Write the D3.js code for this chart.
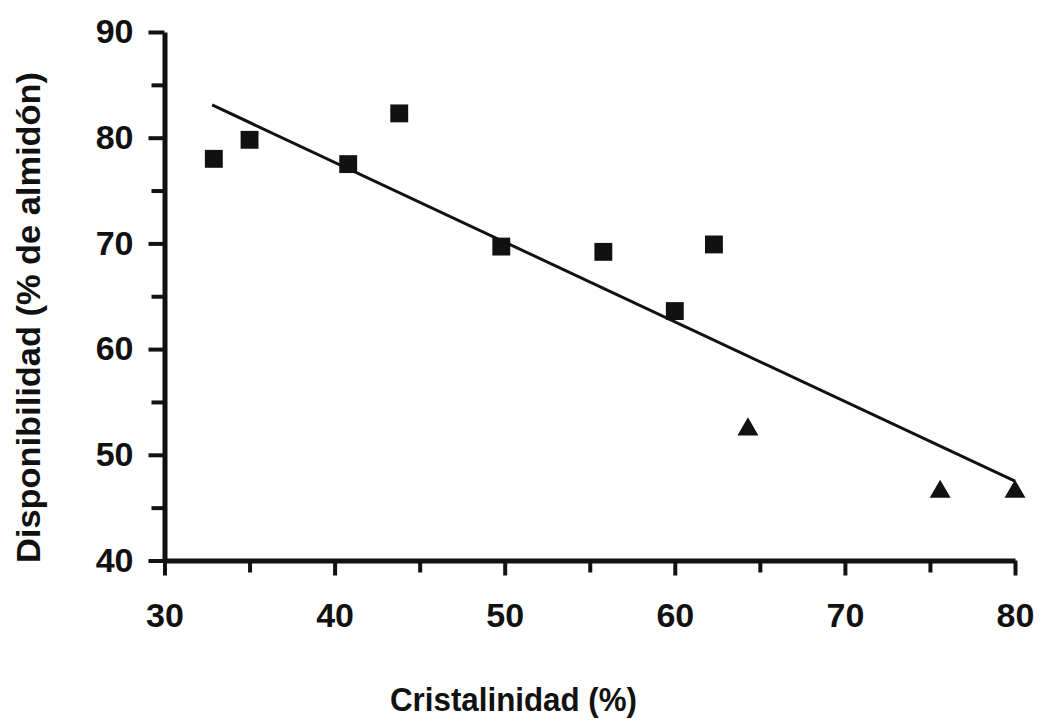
<!DOCTYPE html>
<html>
<head>
<meta charset="utf-8">
<script src="https://cdn.jsdelivr.net/npm/d3@7"></script>
<style>
  body { margin: 0; background: #fff; }
  svg { display: block; }
  .axis text { font-family: "Liberation Sans", Arial, sans-serif; font-weight: bold; font-size: 34px; fill: #111; }
  .title { font-family: "Liberation Sans Narrow", "Liberation Sans", Arial, sans-serif; font-weight: bold; fill: #111; }
</style>
</head>
<body>
<svg id="chart" width="1042" height="721"></svg>
<script>
// data
var squareX = [32.9, 35.0, 40.8, 43.8, 49.8, 55.8, 60.0, 62.3];
var squareY = [78.0, 79.8, 77.5, 82.3, 69.7, 69.2, 63.6, 69.9];
var triangleX = [64.3, 75.6, 80.0];
var triangleY = [52.4, 46.5, 46.5];
var fitX = [32.8, 80.0];
var fitY = [83.1, 47.5];
var xTicks = [30, 35, 40, 45, 50, 55, 60, 65, 70, 75, 80];
var yTicks = [40, 45, 50, 55, 60, 65, 70, 75, 80, 85, 90];

var svg = d3.select('#chart');

var x = d3.scaleLinear().domain([30, 80]).range([164.5, 1015]);
var y = d3.scaleLinear().domain([40, 90]).range([560.5, 32]);

var fmt = (d) => d % 10 === 0 ? d : '';

var xAxis = svg.append('g')
    .attr('class', 'axis')
    .attr('transform', 'translate(0,' + y(40) + ')')
    .call(d3.axisBottom(x).tickValues(xTicks).tickFormat(fmt).tickSize(15).tickSizeOuter(0).tickPadding(27));

var yAxis = svg.append('g')
    .attr('class', 'axis')
    .attr('transform', 'translate(' + x(30) + ',0)')
    .call(d3.axisLeft(y).tickValues(yTicks).tickFormat(fmt).tickSize(16).tickSizeOuter(0).tickPadding(15));

svg.selectAll('.axis .domain').attr('stroke', '#111').attr('stroke-width', 5);
svg.selectAll('.axis .tick line').attr('stroke', '#111').attr('stroke-width', 4);
// minor ticks a bit shorter
xAxis.selectAll('.tick').filter(d => d % 10 !== 0).select('line').attr('y2', 12);
yAxis.selectAll('.tick').filter(d => d % 10 !== 0).select('line').attr('x2', -13);

// regression line
var fit = fitX.map((d, i) => [d, fitY[i]]);
svg.append('path')
    .datum(fit)
    .attr('fill', 'none')
    .attr('stroke', '#111')
    .attr('stroke-width', 3)
    .attr('d', d3.line().x(d => x(d[0])).y(d => y(d[1])));

// squares
var sq = squareX.map((d, i) => [d, squareY[i]]);
svg.append('g').selectAll('path')
    .data(sq)
    .enter()
    .append('path')
    .attr('transform', d => 'translate(' + x(d[0]) + ',' + y(d[1]) + ')')
    .attr('d', d3.symbol().type(d3.symbolSquare).size(320))
    .attr('fill', '#111');

// triangles
var tri = triangleX.map((d, i) => [d, triangleY[i]]);
svg.append('g').selectAll('path')
    .data(tri)
    .enter()
    .append('path')
    .attr('transform', d => 'translate(' + x(d[0]) + ',' + y(d[1]) + ')')
    .attr('d', d3.symbol().type(d3.symbolTriangle).size(190))
    .attr('fill', '#111');

// axis titles
svg.append('text')
    .attr('class', 'title')
    .attr('x', 390)
    .attr('y', 711)
    .attr('font-size', 34)
    .attr('textLength', 247)
    .attr('lengthAdjust', 'spacingAndGlyphs')
    .text('Cristalinidad (%)');

svg.append('text')
    .attr('class', 'title')
    .attr('transform', 'translate(40,563) rotate(-90)')
    .attr('font-size', 34)
    .attr('textLength', 491)
    .attr('lengthAdjust', 'spacingAndGlyphs')
    .text('Disponibilidad (% de almidón)');
</script>
</body>
</html>
